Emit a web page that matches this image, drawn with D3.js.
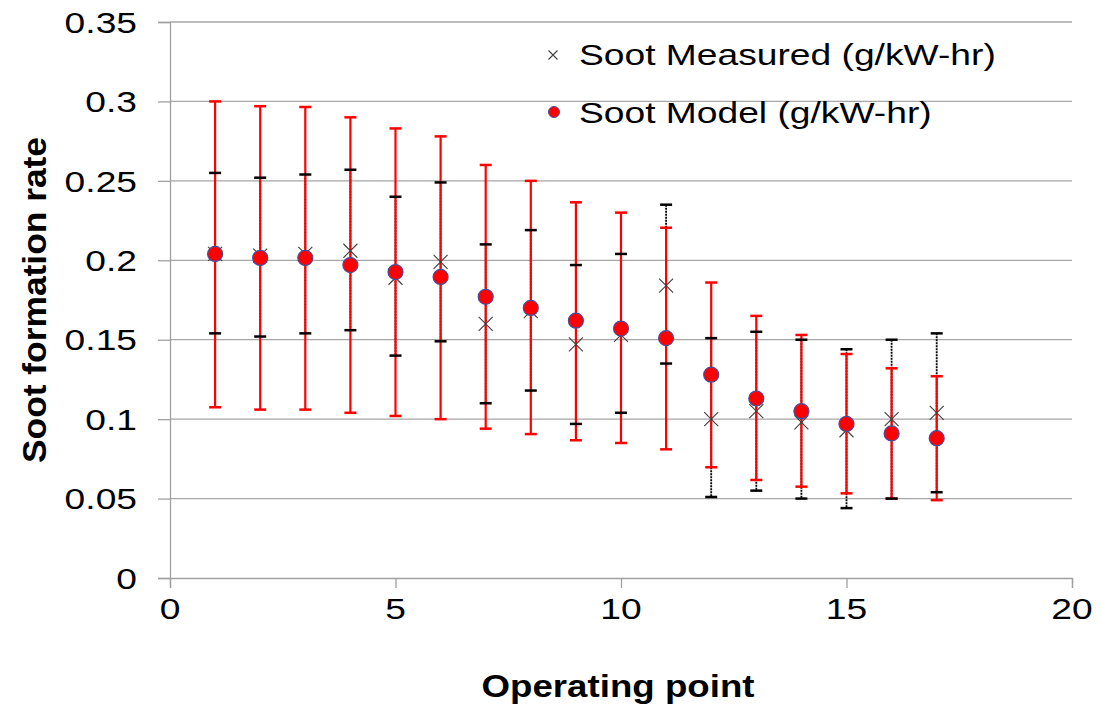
<!DOCTYPE html>
<html>
<head>
<meta charset="utf-8">
<script src="https://cdn.jsdelivr.net/npm/d3@7"></script>
<style>
  body { margin: 0; background: #fff; }
  svg { display: block; }
</style>
</head>
<body>
<div id="chart"></div>
<script>
// operating points 1..17
const points = [1, 2, 3, 4, 5, 6, 7, 8, 9, 10, 11, 12, 13, 14, 15, 16, 17];

// Soot Measured (g/kW-hr) with its error bar ends
const measured     = [0.204, 0.203, 0.204, 0.206, 0.189, 0.199, 0.160, 0.168, 0.147, 0.153, 0.184, 0.100, 0.105, 0.098, 0.093, 0.100, 0.104];
const measuredHigh = [0.255, 0.252, 0.254, 0.257, 0.240, 0.249, 0.210, 0.219, 0.197, 0.204, 0.235, 0.151, 0.155, 0.150, 0.144, 0.150, 0.154];
const measuredLow  = [0.154, 0.152, 0.154, 0.156, 0.140, 0.149, 0.110, 0.118, 0.097, 0.104, 0.135, 0.051, 0.055, 0.050, 0.044, 0.050, 0.054];

// Soot Model (g/kW-hr) with its error bar ends
const model     = [0.204, 0.2015, 0.2015, 0.197, 0.1926, 0.1895, 0.177, 0.170, 0.162, 0.157, 0.151, 0.128, 0.113, 0.105, 0.097, 0.091, 0.088];
const modelHigh = [0.300, 0.297, 0.2965, 0.290, 0.283, 0.278, 0.260, 0.250, 0.2365, 0.230, 0.2205, 0.186, 0.165, 0.153, 0.141, 0.132, 0.127];
const modelLow  = [0.1075, 0.106, 0.106, 0.104, 0.102, 0.100, 0.094, 0.0906, 0.0867, 0.085, 0.081, 0.0697, 0.0617, 0.0575, 0.0533, 0.050, 0.049];

const xTicks = [0, 5, 10, 15, 20];
const yTicks = [0, 0.05, 0.1, 0.15, 0.2, 0.25, 0.3, 0.35];
const seriesNames = ["Soot Measured (g/kW-hr)", "Soot Model (g/kW-hr)"];

(function() {
  const width = 1102;
  const height = 710;
  const margin = { top: 22, right: 30, bottom: 132, left: 170 };
  const font = "'Liberation Sans', Arial, sans-serif";
  const stretch = 1.24; // the source picture is wider than tall text would be

  const svg = d3.select("#chart")
    .append("svg")
    .attr("width", width)
    .attr("height", height);

  const x = d3.scaleLinear()
    .domain([0, 20])
    .range([margin.left, width - margin.right]);

  const y = d3.scaleLinear()
    .domain([0, 0.35])
    .range([height - margin.bottom, margin.top]);

  // gridlines
  svg.append("g")
    .selectAll("line")
    .data(yTicks.filter(d => d > 0))
    .join("line")
    .attr("x1", x(0))
    .attr("x2", x(20))
    .attr("y1", d => y(d))
    .attr("y2", d => y(d))
    .attr("stroke", "#a6a6a6")
    .attr("stroke-width", 1.3);

  // axes (lines + ticks only, labels drawn separately so they can be stretched)
  const yAxis = svg.append("g")
    .attr("transform", `translate(${x(0)},0)`)
    .call(d3.axisLeft(y).tickValues(yTicks).tickSize(12).tickFormat(""));
  const xAxis = svg.append("g")
    .attr("transform", `translate(0,${y(0)})`)
    .call(d3.axisBottom(x).tickValues(xTicks).tickSize(10).tickFormat(""));
  [yAxis, xAxis].forEach(g => {
    g.selectAll("path, line").attr("stroke", "#a0a0a0").attr("stroke-width", 1.3);
  });

  // tick labels
  svg.append("g")
    .selectAll("text")
    .data(yTicks)
    .join("text")
    .attr("transform", d => `translate(137,${y(d)}) scale(${stretch},1)`)
    .attr("text-anchor", "end")
    .attr("dominant-baseline", "central")
    .style("font-family", font)
    .style("font-size", "30px")
    .text(d => d === 0 ? "0" : String(d));

  svg.append("g")
    .selectAll("text")
    .data(xTicks)
    .join("text")
    .attr("transform", d => `translate(${x(d)},${y(0) + 30}) scale(${stretch},1)`)
    .attr("text-anchor", "middle")
    .attr("dominant-baseline", "central")
    .style("font-family", font)
    .style("font-size", "30px")
    .text(d => d);

  // axis titles
  svg.append("text")
    .attr("x", 618)
    .attr("y", 697)
    .attr("text-anchor", "middle")
    .attr("textLength", 273)
    .attr("lengthAdjust", "spacingAndGlyphs")
    .style("font-family", font)
    .style("font-weight", "bold")
    .style("font-size", "31px")
    .text("Operating point");

  svg.append("text")
    .attr("transform", "translate(46,300) rotate(-90)")
    .attr("text-anchor", "middle")
    .attr("textLength", 326)
    .attr("lengthAdjust", "spacingAndGlyphs")
    .style("font-family", font)
    .style("font-weight", "bold")
    .style("font-size", "34px")
    .text("Soot formation rate");

  const data = points.map((p, i) => ({
    p,
    m: measured[i], mHi: measuredHigh[i], mLo: measuredLow[i],
    s: model[i], sHi: modelHigh[i], sLo: modelLow[i]
  }));

  // error bar stems: measured below, model on top
  svg.append("g")
    .selectAll("line")
    .data(data)
    .join("line")
    .attr("x1", d => x(d.p)).attr("x2", d => x(d.p))
    .attr("y1", d => y(d.mHi)).attr("y2", d => y(d.mLo))
    .attr("stroke", "#000")
    .attr("stroke-width", 1.8)
    .attr("stroke-dasharray", "2,1");

  svg.append("g")
    .selectAll("line")
    .data(data)
    .join("line")
    .attr("x1", d => x(d.p)).attr("x2", d => x(d.p))
    .attr("y1", d => y(d.sHi)).attr("y2", d => y(d.sLo))
    .attr("stroke", "#ff0000")
    .attr("stroke-width", 2.2);

  const caps = (key, color, w) => {
    svg.append("g")
      .selectAll("line")
      .data(data)
      .join("line")
      .attr("x1", d => x(d.p) - 6).attr("x2", d => x(d.p) + 6)
      .attr("y1", d => y(d[key])).attr("y2", d => y(d[key]))
      .attr("stroke", color)
      .attr("stroke-width", w);
  };
  caps("sHi", "#ff0000", 2.5);
  caps("sLo", "#ff0000", 2.5);
  caps("mHi", "#000", 2.5);
  caps("mLo", "#000", 2.5);

  // measured markers (x)
  const cross = (g, cx, cy, r) => {
    g.append("path")
      .attr("d", `M${cx - r},${cy - r}L${cx + r},${cy + r}M${cx - r},${cy + r}L${cx + r},${cy - r}`)
      .attr("stroke", "#404040")
      .attr("stroke-width", 1.1)
      .attr("fill", "none");
  };
  const crossG = svg.append("g");
  data.forEach(d => cross(crossG, x(d.p), y(d.m), 7));

  // model markers (dots)
  svg.append("g")
    .selectAll("circle")
    .data(data)
    .join("circle")
    .attr("cx", d => x(d.p))
    .attr("cy", d => y(d.s))
    .attr("r", 7.5)
    .attr("fill", "#ff0000")
    .attr("stroke", "#4b4b99")
    .attr("stroke-width", 1.2);

  // legend
  const legend = svg.append("g");
  cross(legend, 553, 55, 4.5);
  legend.append("circle")
    .attr("cx", 554).attr("cy", 112)
    .attr("r", 5.5)
    .attr("fill", "#ff0000")
    .attr("stroke", "#4b4b99")
    .attr("stroke-width", 1);
  legend.selectAll("text")
    .data(seriesNames)
    .join("text")
    .attr("transform", (d, i) => `translate(579,${i === 0 ? 54 : 112}) scale(${stretch},1)`)
    .attr("dominant-baseline", "central")
    .style("font-family", font)
    .style("font-size", "30px")
    .text(d => d);
})();
</script>
</body>
</html>
